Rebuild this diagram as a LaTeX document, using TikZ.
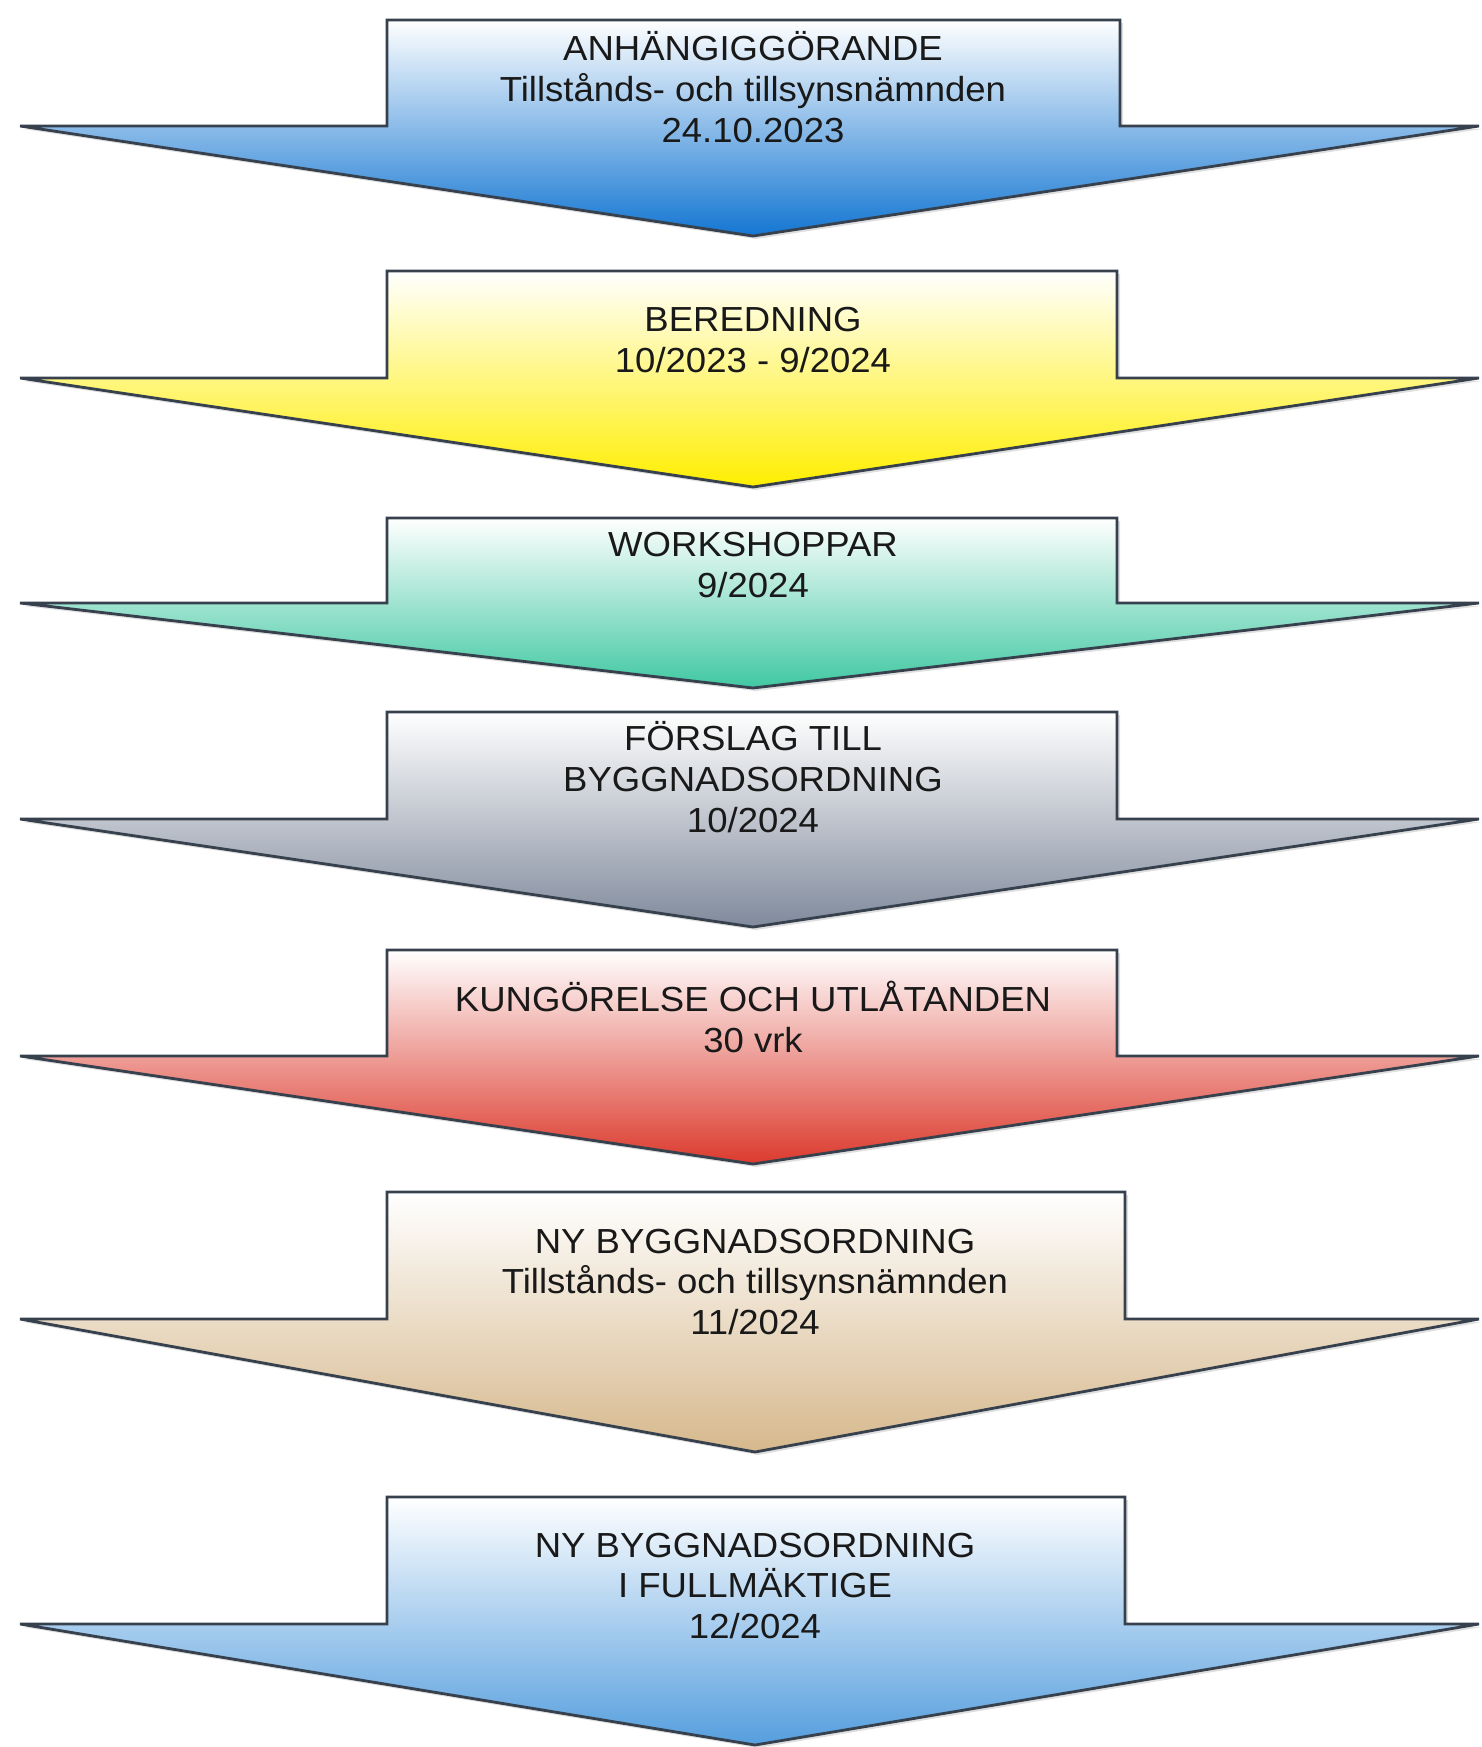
\documentclass[tikz,border=0pt]{standalone}
\usepackage{fontspec}
\setmainfont{Liberation Sans}[FakeStretch=1.05]
\usetikzlibrary{shadows}

\definecolor{kant}{RGB}{55,65,78}
\definecolor{blaa}{RGB}{20,118,210}
\definecolor{gul}{RGB}{255,238,0}
\definecolor{turkos}{RGB}{64,200,162}
\definecolor{gra}{RGB}{128,138,156}
\definecolor{rod}{RGB}{220,58,45}
\definecolor{beige}{RGB}{214,184,140}
\definecolor{ljusblaa}{RGB}{85,158,222}

\tikzset{
	pil/.style={draw=kant, line width=1.6pt, line join=miter, top color=white,
		drop shadow={opacity=0.25, shadow xshift=0.06cm, shadow yshift=-0.06cm}},
	etikett/.style={align=center, font=\fontsize{19.8}{23.3}\selectfont, text=black!90, inner sep=0pt}
}

\begin{document}
\begin{tikzpicture}[x=0.02cm, y=-0.02cm]
	\useasboundingbox (0, 0) rectangle (1481, 1747);

	\draw[pil, bottom color=blaa] (20, 126) -- (387, 126) -- (387, 20) -- (1120, 20) -- (1120, 126) -- (1479, 126) -- (753, 236) -- cycle;
	\node[etikett] (anh) at (753, 87) {ANHÄNGIGGÖRANDE\\Tillstånds- och tillsynsnämnden\\24.10.2023};

	\draw[pil, bottom color=gul] (20, 378) -- (387, 378) -- (387, 271) -- (1117, 271) -- (1117, 378) -- (1479, 378) -- (753, 487) -- cycle;
	\node[etikett] (ber) at (753, 340) {BEREDNING\\10/2023 - 9/2024};

	\draw[pil, bottom color=turkos] (20, 603) -- (387, 603) -- (387, 518) -- (1117, 518) -- (1117, 603) -- (1479, 603) -- (753, 688) -- cycle;
	\node[etikett] (work) at (753, 565) {WORKSHOPPAR\\9/2024};

	\draw[pil, bottom color=gra] (20, 819) -- (387, 819) -- (387, 712) -- (1117, 712) -- (1117, 819) -- (1479, 819) -- (753, 927) -- cycle;
	\node[etikett] (forslag) at (753, 777) {FÖRSLAG TILL\\BYGGNADSORDNING\\10/2024};

	\draw[pil, bottom color=rod] (20, 1056) -- (387, 1056) -- (387, 950) -- (1117, 950) -- (1117, 1056) -- (1479, 1056) -- (753, 1164) -- cycle;
	\node[etikett] (kung) at (753, 1017) {KUNGÖRELSE OCH UTLÅTANDEN\\30 vrk};

	\draw[pil, bottom color=beige] (20, 1319) -- (387, 1319) -- (387, 1192) -- (1125, 1192) -- (1125, 1319) -- (1479, 1319) -- (755, 1452) -- cycle;
	\node[etikett] (nybo) at (755, 1282) {NY BYGGNADSORDNING\\Tillstånds- och tillsynsnämnden\\11/2024};

	\draw[pil, bottom color=ljusblaa] (20, 1624) -- (387, 1624) -- (387, 1497) -- (1125, 1497) -- (1125, 1624) -- (1479, 1624) -- (755, 1745) -- cycle;
	\node[etikett] (fullm) at (755, 1586) {NY BYGGNADSORDNING\\I FULLMÄKTIGE\\12/2024};
\end{tikzpicture}
\end{document}
